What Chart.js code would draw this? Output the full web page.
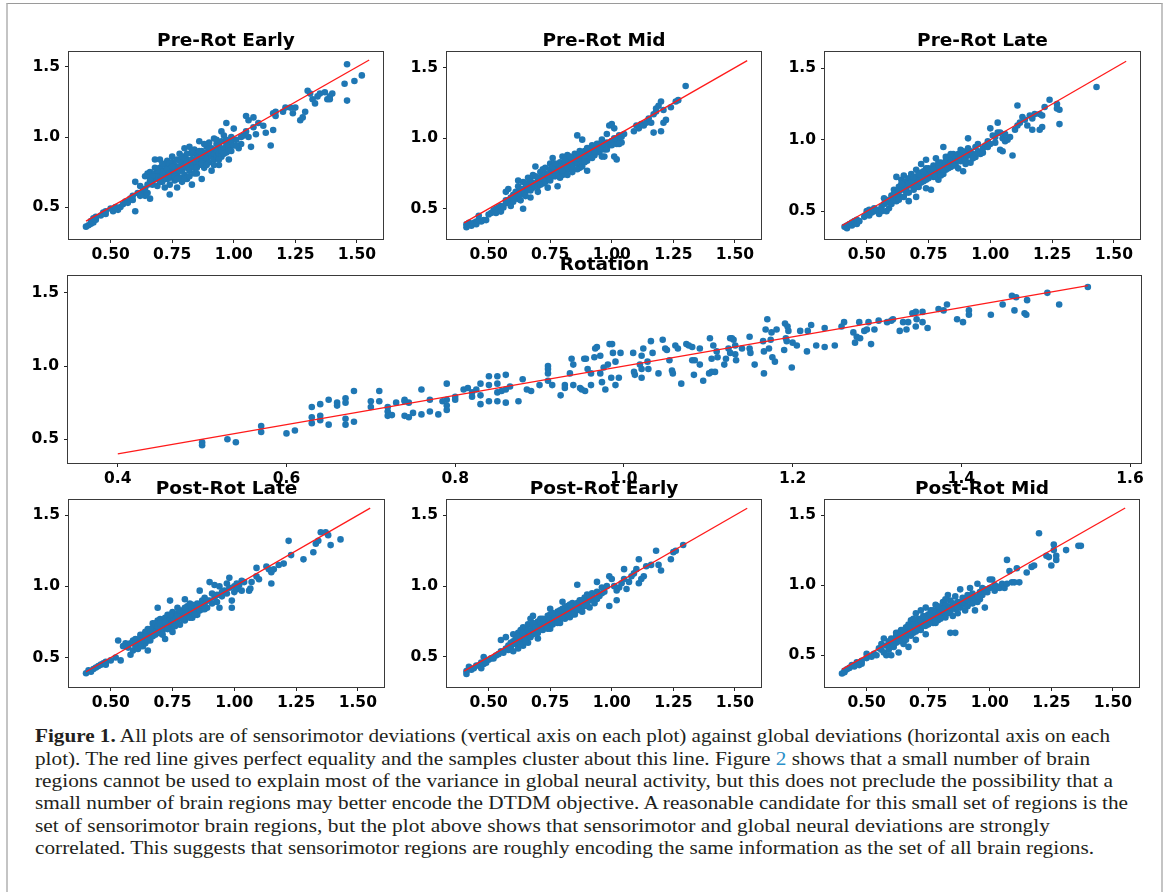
<!DOCTYPE html>
<html><head><meta charset="utf-8">
<script src="https://cdn.jsdelivr.net/npm/chart.js@4.4.0/dist/chart.umd.min.js"></script>
<style>
html,body{margin:0;padding:0;background:#fff;width:1167px;height:892px;overflow:hidden;position:relative;}
#frame{position:absolute;left:6px;top:3px;width:1153px;height:1000px;border-top:1px solid #9a9a9a;border-left:2px solid #c4c4c4;border-right:2px solid #c4c4c4;}
canvas{position:absolute;}
#caption{position:absolute;left:0;top:0;color:#231f20;}
.cl{position:absolute;white-space:nowrap;line-height:normal;transform-origin:0 0;}
.cl b{font-weight:bold;}
.cl .lk{color:#2a8fc8;}
</style></head><body>
<div id="frame"></div>
<div id="caption"></div>
<script>
// ---------- DATA ----------
const smallXTicks=[0.5,0.75,1.0,1.25,1.5];
const smallXLabels=['0.50','0.75','1.00','1.25','1.50'];
const rotXTicks=[0.4,0.6,0.8,1.0,1.2,1.4,1.6];
const rotXLabels=['0.4','0.6','0.8','1.0','1.2','1.4','1.6'];
const yTicks=[0.5,1.0,1.5];
const yLabels=['0.5','1.0','1.5'];
const equalityLine=[[0.4,0.4],[1.55,1.55]];

const preRotEarly=[[0.40,0.36],[0.41,0.37],[0.42,0.38],[0.42,0.40],[0.43,0.39],[0.43,0.42],[0.44,0.41],[0.44,0.43],[0.46,0.44],[0.47,0.46],[0.48,0.45],[0.48,0.47],[0.50,0.49],[0.51,0.47],[0.52,0.50],[0.53,0.48],[0.54,0.50],[0.55,0.52],[0.56,0.54],[0.57,0.53],[0.58,0.56],[0.59,0.55],[0.59,0.58],[0.60,0.47],[0.60,0.68],[0.61,0.60],[0.62,0.65],[0.63,0.61],[0.64,0.58],[0.65,0.60],[0.66,0.56],[0.64,0.63],
[0.64,0.72],[0.65,0.74],[0.66,0.75],[0.66,0.71],[0.67,0.68],[0.67,0.66],[0.68,0.74],[0.68,0.84],[0.69,0.70],[0.69,0.65],[0.70,0.78],[0.70,0.73],[0.70,0.84],[0.71,0.72],[0.71,0.68],[0.72,0.76],[0.72,0.80],[0.72,0.64],
[0.73,0.73],[0.73,0.83],[0.73,0.70],[0.74,0.78],[0.74,0.75],[0.74,0.66],[0.74,0.59],[0.75,0.82],[0.75,0.72],[0.75,0.86],[0.76,0.77],[0.76,0.69],[0.76,0.80],[0.77,0.84],[0.77,0.74],[0.77,0.64],[0.78,0.79],[0.78,0.88],[0.78,0.71],[0.79,0.82],[0.79,0.76],[0.79,0.68],[0.80,0.86],[0.80,0.80],[0.80,0.73],[0.80,0.92],
[0.81,0.78],[0.81,0.84],[0.81,0.70],[0.82,0.93],[0.82,0.82],[0.82,0.76],[0.83,0.80],[0.83,0.88],[0.83,0.66],[0.84,0.84],[0.84,0.78],[0.84,0.91],[0.85,0.82],[0.85,0.88],[0.85,0.74],[0.86,0.86],[0.86,0.80],[0.86,0.97],[0.87,0.84],[0.87,0.90],[0.87,0.70],[0.88,0.87],[0.88,0.82],[0.88,0.78],
[0.89,0.93],[0.89,0.85],[0.90,0.88],[0.90,0.82],[0.90,0.96],[0.91,0.86],[0.91,0.90],[0.91,0.76],[0.92,0.99],[0.92,0.84],[0.92,0.88],[0.93,0.91],[0.93,0.86],[0.94,0.88],[0.94,0.94],[0.94,0.80],[0.95,1.04],[0.95,0.90],[0.95,0.86],[0.96,0.92],[0.96,1.01],[0.97,0.89],[0.97,1.10],[0.97,0.95],[0.98,0.93],[0.98,0.84],[0.99,0.97],[0.99,0.90],[1.00,0.94],[1.00,1.06],
[1.01,0.98],[1.02,0.92],[1.03,0.95],[1.04,1.01],[1.05,1.04],[1.05,1.15],[1.06,1.12],[1.06,1.00],[1.07,0.93],[1.08,1.07],[1.08,1.14],[1.09,1.02],[1.10,1.10],[1.12,1.08],[1.13,1.03],[1.15,0.94],[1.16,1.05],[1.16,1.17],[1.17,1.15],[1.17,1.18],[1.20,1.18],
[1.21,1.21],[1.23,1.21],[1.25,1.21],[1.24,1.17],[1.27,1.12],[1.28,1.14],[1.29,1.18],[1.30,1.33],[1.31,1.31],[1.32,1.27],[1.33,1.24],[1.34,1.29],[1.35,1.31],[1.37,1.32],[1.38,1.27],[1.39,1.29],[1.40,1.31],[1.39,1.27],[1.45,1.38],[1.46,1.52],[1.46,1.26],[1.49,1.40],[1.52,1.44],
[0.68,0.72],[0.71,0.75],[0.74,0.71],[0.76,0.74],[0.78,0.76],[0.79,0.79],[0.81,0.81],[0.83,0.84],[0.85,0.85],[0.87,0.87],[0.89,0.89],[0.91,0.92],[0.93,0.95],[0.95,0.97],[0.76,0.72],[0.72,0.70],[0.69,0.76],[0.67,0.72],
[0.66,0.69],[0.68,0.78],[0.70,0.68],[0.71,0.81],[0.73,0.77],[0.74,0.81],[0.75,0.79],[0.77,0.70],[0.78,0.83],[0.79,0.86],[0.80,0.70],[0.81,0.88],[0.82,0.72],[0.83,0.90],[0.84,0.74],[0.85,0.78],[0.86,0.90],[0.87,0.81],[0.88,0.95],[0.89,0.80],[0.90,0.92],[0.92,0.80],[0.93,0.98],[0.94,0.84],[0.96,0.88],[0.97,0.98],[0.98,0.90],[0.99,1.00],[1.01,0.94],[1.03,1.00],[0.62,0.58],[0.65,0.66]];

const preRotMid=[[0.41,0.37],[0.41,0.39],[0.42,0.40],[0.43,0.38],[0.44,0.40],[0.45,0.41],[0.45,0.39],[0.46,0.42],[0.46,0.45],[0.47,0.41],[0.48,0.42],[0.49,0.42],[0.50,0.46],[0.51,0.47],[0.52,0.49],[0.53,0.50],[0.53,0.47],[0.54,0.51],[0.55,0.52],[0.55,0.48],[0.56,0.51],[0.57,0.54],[0.57,0.62],[0.58,0.56],[0.58,0.64],[0.59,0.58],[0.59,0.52],[0.60,0.60],[0.60,0.55],[0.61,0.62],[0.62,0.57],[0.62,0.66],[0.63,0.64],[0.63,0.60],[0.64,0.50],[0.64,0.69],[0.65,0.62],[0.66,0.72],[0.66,0.67],[0.67,0.58],[0.67,0.70],[0.68,0.74],[0.68,0.65],[0.69,0.68],[0.69,0.80],[0.70,0.72],[0.70,0.62],[0.71,0.70],[0.71,0.76],[0.72,0.73],[0.72,0.68],[0.73,0.75],[0.73,0.79],[0.74,0.71],[0.74,0.65],[0.75,0.78],[0.75,0.82],[0.75,0.74],[0.76,0.76],[0.76,0.86],[0.77,0.79],[0.77,0.73],[0.78,0.81],[0.78,0.75],[0.78,0.66],[0.79,0.83],[0.79,0.78],[0.80,0.80],[0.80,0.87],[0.80,0.74],[0.81,0.82],[0.81,0.77],[0.82,0.85],[0.82,0.80],[0.82,0.88],[0.83,0.78],[0.83,0.83],[0.84,0.86],[0.84,0.81],[0.84,0.76],[0.85,0.84],[0.85,0.89],[0.86,1.02],[0.86,0.82],[0.86,0.87],[0.87,0.85],[0.87,0.79],[0.88,0.88],[0.88,0.83],[0.88,0.99],[0.89,0.86],[0.89,0.91],[0.90,0.89],[0.90,0.84],[0.90,0.77],[0.91,0.92],[0.91,0.87],[0.92,0.90],[0.93,0.88],[0.93,0.94],[0.94,0.91],[0.95,0.96],[0.95,0.90],[0.96,0.93],[0.96,0.99],[0.97,0.92],[0.97,0.87],[0.98,0.97],[0.98,1.03],[0.99,0.95],[0.99,1.09],[1.00,1.10],[1.00,0.98],[1.01,0.87],[1.01,1.07],[1.02,0.85],[1.02,0.96],[1.03,1.02],[1.03,0.99],[1.04,1.01],[1.04,0.97],[1.05,1.03],[1.09,1.05],[1.10,1.09],[1.11,1.07],[1.12,1.10],[1.13,1.09],[1.14,1.11],[1.15,1.14],[1.16,1.11],[1.17,1.04],[1.17,1.17],[1.18,1.19],[1.18,1.21],[1.19,1.23],[1.20,1.05],[1.20,1.26],[1.21,1.20],[1.22,1.13],[1.21,1.11],[1.24,1.22],[1.26,1.26],[1.27,1.27],[1.30,1.37],
[0.57,0.56],[0.60,0.58],[0.62,0.61],[0.64,0.64],[0.66,0.65],[0.68,0.68],[0.70,0.69],[0.72,0.71],[0.74,0.74],[0.76,0.73],[0.77,0.77],[0.79,0.80],[0.81,0.79],[0.83,0.81],[0.85,0.86],[0.87,0.88],[0.89,0.88],[0.91,0.89],[0.92,0.95],[0.94,0.96],[0.62,0.70],[0.65,0.59],[0.63,0.56],
[0.65,0.68],[0.67,0.63],[0.69,0.73],[0.70,0.66],[0.71,0.67],[0.72,0.78],[0.73,0.69],[0.75,0.70],[0.76,0.80],[0.77,0.82],[0.79,0.72],[0.80,0.77],[0.81,0.85],[0.82,0.74],[0.83,0.87],[0.84,0.79],[0.86,0.78],[0.87,0.91],[0.88,0.80],[0.89,0.83],[0.90,0.93],[0.92,0.86],[0.93,0.91],[0.95,0.93],[0.96,0.87],[0.97,0.96],[0.98,0.92],[1.00,0.95],[1.01,1.00],[1.03,0.96]];

const preRotLate=[[0.41,0.39],[0.42,0.40],[0.42,0.38],[0.43,0.41],[0.44,0.40],[0.44,0.42],[0.45,0.43],[0.46,0.41],[0.46,0.44],[0.47,0.43],[0.49,0.46],[0.50,0.48],[0.50,0.50],[0.51,0.47],[0.51,0.51],[0.52,0.49],[0.53,0.52],[0.53,0.50],[0.54,0.51],[0.55,0.48],[0.56,0.53],[0.56,0.50],[0.57,0.55],[0.57,0.59],[0.58,0.56],[0.58,0.50],[0.59,0.52],[0.59,0.58],[0.60,0.61],[0.60,0.55],[0.61,0.65],[0.61,0.59],[0.62,0.63],[0.62,0.74],[0.62,0.57],[0.63,0.67],[0.63,0.61],[0.64,0.72],[0.64,0.65],[0.65,0.69],[0.65,0.60],[0.65,0.75],[0.66,0.66],[0.66,0.71],[0.67,0.73],[0.67,0.63],[0.67,0.57],[0.68,0.68],[0.68,0.76],[0.69,0.70],[0.69,0.65],[0.70,0.74],[0.70,0.79],[0.70,0.60],[0.71,0.72],[0.71,0.67],[0.72,0.77],[0.72,0.83],[0.72,0.70],[0.73,0.75],[0.73,0.71],[0.74,0.80],[0.74,0.66],[0.74,0.86],[0.75,0.77],[0.75,0.73],[0.76,0.79],[0.76,0.76],[0.76,0.65],[0.77,0.82],[0.77,0.74],[0.78,0.80],[0.78,0.77],[0.78,0.87],[0.79,0.78],[0.79,0.72],[0.80,0.84],[0.80,0.80],[0.81,0.82],[0.81,0.76],[0.81,0.95],[0.82,0.85],[0.82,0.79],[0.83,0.83],[0.83,0.88],[0.84,0.86],[0.84,0.81],[0.85,0.84],[0.85,0.90],[0.86,0.87],[0.86,0.82],[0.87,0.90],[0.87,0.80],[0.88,0.85],[0.88,0.93],[0.89,0.88],[0.89,0.78],[0.90,0.91],[0.90,0.86],[0.91,1.01],[0.91,0.89],[0.92,0.92],[0.92,0.84],[0.93,0.90],[0.94,0.95],[0.94,0.88],[0.95,0.92],[0.96,0.90],[0.97,0.94],[0.98,0.96],[0.99,0.99],[0.99,0.95],[1.00,1.08],[1.01,1.03],[1.02,1.02],[1.02,0.98],[1.03,1.12],[1.03,1.05],[1.04,0.93],[1.05,1.01],[1.05,0.92],[1.06,0.99],[1.07,1.00],[1.08,1.02],[1.09,0.89],[1.10,1.07],[1.11,1.24],[1.11,1.10],[1.12,1.12],[1.13,1.16],[1.14,1.14],[1.15,1.10],[1.16,1.17],[1.17,1.07],[1.17,1.15],[1.18,1.18],[1.20,1.07],[1.20,1.18],[1.21,1.09],[1.21,1.17],[1.22,1.23],[1.24,1.28],[1.27,1.25],[1.27,1.22],[1.28,1.21],[1.28,1.11],[1.43,1.37],
[0.63,0.64],[0.66,0.68],[0.69,0.69],[0.71,0.70],[0.73,0.73],[0.75,0.75],[0.77,0.77],[0.79,0.81],[0.80,0.78],[0.82,0.82],[0.84,0.84],[0.86,0.85],[0.88,0.88],[0.67,0.69],[0.72,0.74],[0.76,0.78],
[0.61,0.62],[0.63,0.58],[0.64,0.69],[0.66,0.63],[0.68,0.71],[0.69,0.74],[0.70,0.67],[0.71,0.76],[0.73,0.78],[0.74,0.72],[0.75,0.80],[0.77,0.79],[0.78,0.74],[0.79,0.84],[0.80,0.75],[0.81,0.79],[0.82,0.88],[0.83,0.80],[0.84,0.90],[0.85,0.82],[0.87,0.86],[0.89,0.92],[0.90,0.83],[0.91,0.94],[0.93,0.87],[0.95,0.97],[0.97,0.91],[1.00,0.97],[1.04,1.05],[1.06,1.04]];

const rotation=[[0.50,0.46],[0.50,0.48],[0.53,0.50],[0.54,0.48],[0.57,0.55],[0.57,0.59],[0.60,0.54],[0.61,0.56],[0.63,0.61],[0.63,0.72],[0.64,0.66],[0.64,0.74],[0.64,0.63],[0.63,0.65],[0.65,0.60],[0.65,0.77],[0.66,0.75],[0.66,0.73],[0.67,0.78],[0.67,0.75],[0.67,0.64],[0.68,0.62],[0.67,0.60],[0.68,0.83],[0.70,0.76],[0.70,0.72],[0.71,0.83],[0.71,0.76],[0.72,0.69],[0.72,0.66],[0.725,0.665],[0.72,0.72],[0.73,0.75],[0.74,0.76],[0.74,0.77],[0.745,0.75],[0.74,0.66],[0.745,0.65],[0.75,0.68],[0.76,0.84],[0.76,0.67],[0.77,0.69],[0.77,0.77],[0.78,0.67],[0.79,0.88],[0.79,0.73],[0.79,0.77],[0.785,0.76],[0.79,0.70],[0.80,0.77],[0.80,0.79],[0.81,0.84],[0.815,0.85],[0.82,0.82],[0.825,0.84],[0.82,0.79],[0.83,0.88],[0.83,0.80],[0.83,0.74],[0.84,0.76],[0.84,0.87],[0.84,0.93],[0.85,0.82],[0.85,0.93],[0.85,0.88],[0.855,0.83],[0.85,0.76],[0.86,0.75],[0.86,0.94],[0.86,0.84],[0.865,0.86],[0.875,0.76],[0.88,0.91],[0.885,0.84],[0.89,0.83],[0.90,0.87],[0.91,0.90],[0.91,1.00],[0.91,0.98],[0.91,0.95],[0.915,0.87],[0.925,0.80],[0.93,0.87],[0.93,0.85],[0.936,0.95],[0.938,1.05],[0.94,1.01],[0.94,0.87],[0.948,0.85],[0.953,1.05],[0.95,0.84],[0.954,0.83],[0.955,1.05],[0.957,0.98],[0.961,0.95],[0.961,0.87],[0.965,1.06],[0.966,1.12],[0.968,1.13],[0.972,1.07],[0.972,0.95],[0.974,0.89],[0.978,0.84],[0.976,0.99],[0.981,1.01],[0.983,1.15],[0.986,1.15],[0.987,1.09],[0.985,0.92],[0.99,0.87],[0.99,1.03],[0.994,0.92],[0.996,1.09],[1.011,1.09],[1.012,0.96],[1.013,0.94],[1.019,1.01],[1.021,0.98],[1.023,1.12],[1.021,1.07],[1.021,0.92],[1.028,1.03],[1.029,0.98],[1.032,1.17],[1.034,1.09],[1.041,0.95],[1.046,1.18],[1.049,1.12],[1.051,1.11],[1.054,1.04],[1.057,0.97],[1.058,0.95],[1.061,1.14],[1.064,1.12],[1.068,0.88],[1.074,1.15],[1.077,1.14],[1.081,1.13],[1.081,1.04],[1.084,1.04],[1.083,0.94],[1.09,1.12],[1.09,1.01],[1.094,0.90],[1.101,0.95],[1.104,0.96],[1.102,1.19],[1.106,1.14],[1.104,1.05],[1.108,0.96],[1.11,1.10],[1.111,1.06],[1.119,1.01],[1.121,1.05],[1.124,1.12],[1.126,1.19],[1.128,1.19],[1.13,1.18],[1.132,1.14],[1.126,1.09],[1.132,1.08],[1.133,1.04],[1.14,1.12],[1.149,1.20],[1.149,1.12],[1.15,1.09],[1.155,1.01],[1.165,1.17],[1.166,1.10],[1.166,0.95],[1.168,1.25],[1.17,1.32],[1.172,1.12],[1.175,1.23],[1.174,1.18],[1.176,1.06],[1.179,1.03],[1.181,1.25],[1.19,1.11],[1.191,1.29],[1.192,1.19],[1.194,1.27],[1.195,1.24],[1.193,1.17],[1.199,0.99],[1.20,1.16],[1.205,1.14],[1.209,1.24],[1.217,1.10],[1.218,1.24],[1.222,1.28],[1.228,1.14],[1.238,1.26],[1.238,1.13],[1.25,1.14],[1.258,1.27],[1.261,1.30],[1.272,1.23],[1.274,1.16],[1.276,1.20],[1.28,1.19],[1.279,1.30],[1.285,1.24],[1.288,1.25],[1.29,1.30],[1.293,1.15],[1.297,1.25],[1.302,1.31],[1.312,1.30],[1.317,1.31],[1.319,1.32],[1.327,1.24],[1.331,1.30],[1.335,1.25],[1.337,1.30],[1.342,1.36],[1.346,1.37],[1.347,1.32],[1.346,1.27],[1.354,1.37],[1.354,1.30],[1.36,1.26],[1.373,1.39],[1.379,1.38],[1.383,1.42],[1.395,1.32],[1.402,1.30],[1.409,1.38],[1.409,1.35],[1.435,1.35],[1.449,1.42],[1.46,1.48],[1.463,1.38],[1.465,1.47],[1.475,1.36],[1.477,1.35],[1.478,1.45],[1.502,1.50],[1.516,1.42],[1.55,1.54]];

const postRotLate=[[0.40,0.39],[0.41,0.41],[0.42,0.40],[0.43,0.42],[0.44,0.43],[0.45,0.44],[0.46,0.45],[0.47,0.46],[0.48,0.47],[0.48,0.45],[0.50,0.48],[0.52,0.50],[0.53,0.62],[0.54,0.48],[0.55,0.58],[0.56,0.60],[0.57,0.57],[0.58,0.52],[0.58,0.60],[0.59,0.55],[0.59,0.62],[0.60,0.58],[0.60,0.63],[0.61,0.60],[0.61,0.56],[0.62,0.64],[0.62,0.61],[0.63,0.58],[0.63,0.66],[0.64,0.63],[0.64,0.68],[0.64,0.60],[0.65,0.65],[0.65,0.70],[0.65,0.55],[0.66,0.67],[0.66,0.62],[0.67,0.69],[0.67,0.74],[0.67,0.65],[0.68,0.71],[0.68,0.66],[0.69,0.76],[0.69,0.69],[0.69,0.85],[0.70,0.72],[0.70,0.67],[0.70,0.77],[0.71,0.74],[0.71,0.69],[0.72,0.78],[0.72,0.63],[0.72,0.72],[0.73,0.75],[0.73,0.80],[0.74,0.73],[0.74,0.90],[0.74,0.70],[0.75,0.77],[0.75,0.82],[0.75,0.68],[0.76,0.79],[0.76,0.75],[0.77,0.81],[0.77,0.76],[0.77,0.85],[0.78,0.78],[0.78,0.73],[0.79,0.83],[0.79,0.80],[0.80,0.91],[0.80,0.82],[0.80,0.76],[0.81,0.86],[0.81,0.79],[0.82,0.84],[0.82,0.88],[0.83,0.82],[0.83,0.78],[0.84,0.85],[0.85,0.88],[0.85,0.80],[0.86,0.97],[0.86,0.86],[0.87,0.84],[0.87,0.90],[0.88,0.87],[0.88,0.92],[0.89,0.85],[0.90,1.03],[0.90,0.90],[0.91,0.88],[0.91,0.95],[0.92,1.01],[0.92,0.92],[0.93,0.89],[0.94,1.00],[0.94,0.85],[0.95,0.93],[0.96,0.97],[0.97,1.02],[0.98,1.06],[0.98,0.99],[0.99,0.90],[0.99,0.85],[1.00,0.96],[1.00,1.00],[1.01,0.98],[1.02,1.01],[1.03,0.97],[1.04,1.03],[1.06,0.97],[1.065,0.985],[1.07,1.03],[1.09,1.13],[1.09,1.07],[1.10,1.05],[1.13,1.14],[1.14,1.12],[1.15,1.02],[1.15,1.10],[1.16,1.12],[1.18,1.15],[1.20,1.16],[1.22,1.32],[1.23,1.22],[1.28,1.19],[1.32,1.24],[1.33,1.30],[1.34,1.32],[1.35,1.38],[1.37,1.38],[1.38,1.36],[1.39,1.29],[1.43,1.33],
[0.62,0.58],[0.66,0.65],[0.68,0.68],[0.71,0.71],[0.73,0.72],[0.75,0.74],[0.76,0.77],[0.78,0.80],[0.80,0.79],[0.82,0.81],[0.84,0.83],[0.86,0.83],[0.63,0.62],[0.70,0.70],[0.74,0.77],
[0.60,0.60],[0.62,0.66],[0.64,0.65],[0.65,0.62],[0.66,0.70],[0.67,0.67],[0.68,0.74],[0.69,0.72],[0.70,0.74],[0.71,0.66],[0.72,0.75],[0.73,0.70],[0.74,0.80],[0.75,0.75],[0.76,0.72],[0.77,0.79],[0.78,0.83],[0.79,0.77],[0.80,0.85],[0.81,0.82],[0.82,0.78],[0.83,0.87],[0.84,0.80],[0.85,0.86],[0.87,0.87],[0.88,0.84],[0.89,0.90],[0.93,0.94],[0.95,0.96],[0.97,0.95],[1.01,1.02],[1.03,1.04]];

const postRotEarly=[[0.41,0.38],[0.41,0.40],[0.42,0.43],[0.43,0.41],[0.44,0.42],[0.45,0.44],[0.46,0.44],[0.47,0.42],[0.47,0.46],[0.48,0.50],[0.48,0.45],[0.49,0.46],[0.50,0.48],[0.51,0.49],[0.52,0.49],[0.53,0.51],[0.54,0.52],[0.55,0.54],[0.55,0.62],[0.56,0.53],[0.57,0.64],[0.57,0.56],[0.58,0.58],[0.58,0.55],[0.59,0.60],[0.59,0.57],[0.60,0.61],[0.60,0.54],[0.60,0.66],[0.61,0.59],[0.61,0.63],[0.62,0.60],[0.62,0.67],[0.62,0.56],[0.63,0.64],[0.63,0.69],[0.64,0.62],[0.64,0.71],[0.64,0.58],[0.65,0.66],[0.65,0.70],[0.66,0.64],[0.66,0.73],[0.66,0.60],[0.67,0.68],[0.67,0.77],[0.68,0.71],[0.68,0.66],[0.68,0.79],[0.69,0.73],[0.69,0.68],[0.70,0.75],[0.70,0.71],[0.70,0.63],[0.71,0.72],[0.71,0.77],[0.72,0.74],[0.72,0.69],[0.73,0.76],[0.73,0.71],[0.74,0.73],[0.74,0.79],[0.75,0.84],[0.75,0.76],[0.75,0.70],[0.76,0.78],[0.76,0.73],[0.77,0.80],[0.77,0.75],[0.78,0.77],[0.78,0.82],[0.79,0.79],[0.79,0.74],[0.80,0.84],[0.80,0.80],[0.80,0.89],[0.81,0.82],[0.81,0.77],[0.82,0.86],[0.82,0.80],[0.83,0.84],[0.83,0.78],[0.84,0.88],[0.84,0.82],[0.85,0.86],[0.85,0.80],[0.86,1.01],[0.86,0.88],[0.86,0.83],[0.87,0.90],[0.87,0.85],[0.88,0.87],[0.88,0.82],[0.89,0.92],[0.89,0.86],[0.90,0.94],[0.90,0.88],[0.91,0.90],[0.91,0.85],[0.92,0.92],[0.93,0.88],[0.94,1.03],[0.94,0.96],[0.95,0.93],[0.96,0.99],[0.97,0.96],[0.98,1.00],[0.99,0.86],[0.99,1.07],[1.00,1.05],[1.01,1.00],[1.02,0.97],[1.02,0.90],[1.03,0.99],[1.04,1.02],[1.05,1.12],[1.05,1.05],[1.06,0.98],[1.07,1.03],[1.08,1.07],[1.09,1.09],[1.10,1.12],[1.11,1.19],[1.11,1.02],[1.12,1.05],[1.13,1.07],[1.14,1.14],[1.16,1.15],[1.18,1.25],[1.19,1.15],[1.20,1.11],[1.24,1.19],[1.25,1.24],[1.26,1.25],[1.29,1.29],
[0.63,0.62],[0.65,0.63],[0.67,0.66],[0.69,0.70],[0.71,0.70],[0.72,0.72],[0.74,0.76],[0.76,0.75],[0.78,0.79],[0.79,0.77],[0.81,0.80],[0.83,0.81],[0.85,0.83],[0.87,0.88],[0.89,0.89],[0.91,0.93],[0.93,0.92],
[0.61,0.61],[0.62,0.64],[0.63,0.59],[0.64,0.67],[0.65,0.61],[0.66,0.69],[0.67,0.64],[0.68,0.74],[0.69,0.71],[0.70,0.67],[0.71,0.75],[0.72,0.77],[0.73,0.73],[0.74,0.70],[0.75,0.80],[0.76,0.81],[0.77,0.77],[0.78,0.74],[0.79,0.83],[0.80,0.78],[0.81,0.85],[0.82,0.83],[0.83,0.87],[0.84,0.80],[0.86,0.85],[0.88,0.90],[0.90,0.86],[0.92,0.95],[0.94,0.91],[0.96,0.95]];

const postRotMid=[[0.40,0.37],[0.41,0.38],[0.41,0.39],[0.42,0.40],[0.43,0.41],[0.44,0.43],[0.45,0.42],[0.46,0.45],[0.47,0.43],[0.48,0.46],[0.48,0.44],[0.50,0.51],[0.50,0.48],[0.52,0.49],[0.53,0.51],[0.54,0.50],[0.55,0.55],[0.56,0.58],[0.56,0.54],[0.57,0.52],[0.57,0.62],[0.58,0.57],[0.58,0.50],[0.59,0.60],[0.59,0.54],[0.60,0.58],[0.60,0.62],[0.60,0.50],[0.61,0.61],[0.61,0.56],[0.62,0.64],[0.62,0.59],[0.63,0.62],[0.63,0.66],[0.63,0.52],[0.64,0.60],[0.64,0.68],[0.65,0.65],[0.65,0.58],[0.66,0.70],[0.66,0.63],[0.67,0.56],[0.67,0.67],[0.67,0.72],[0.68,0.64],[0.68,0.75],[0.69,0.69],[0.69,0.66],[0.70,0.73],[0.70,0.80],[0.70,0.61],[0.71,0.70],[0.71,0.76],[0.72,0.68],[0.72,0.82],[0.73,0.74],[0.73,0.71],[0.74,0.77],[0.74,0.65],[0.74,0.84],[0.75,0.72],[0.75,0.79],[0.76,0.75],[0.76,0.82],[0.77,0.78],[0.77,0.73],[0.78,0.80],[0.78,0.76],[0.78,0.86],[0.79,0.82],[0.79,0.75],[0.80,0.84],[0.80,0.78],[0.81,0.80],[0.81,0.88],[0.82,0.83],[0.82,0.77],[0.83,0.93],[0.83,0.85],[0.84,0.66],[0.84,0.81],[0.84,0.89],[0.85,0.84],[0.85,0.78],[0.86,0.66],[0.86,0.86],[0.86,0.92],[0.87,0.80],[0.87,0.88],[0.88,0.84],[0.88,0.97],[0.89,0.86],[0.89,0.91],[0.90,0.82],[0.90,0.88],[0.91,0.93],[0.91,0.85],[0.92,0.89],[0.92,0.98],[0.93,0.87],[0.93,0.94],[0.94,0.91],[0.94,0.82],[0.95,1.01],[0.95,0.88],[0.96,0.95],[0.96,0.90],[0.97,0.93],[0.98,0.84],[0.98,0.97],[0.99,0.95],[1.00,1.04],[1.00,0.98],[1.01,1.04],[1.02,0.96],[1.03,0.99],[1.04,0.98],[1.05,1.01],[1.06,0.98],[1.07,1.18],[1.07,1.01],[1.08,1.10],[1.09,1.02],[1.10,1.02],[1.11,1.12],[1.12,1.02],[1.15,1.09],[1.17,1.13],[1.18,1.14],[1.20,1.37],[1.23,1.21],[1.24,1.20],[1.25,1.14],[1.26,1.29],[1.26,1.25],[1.27,1.18],[1.27,1.21],[1.31,1.25],[1.36,1.28],[1.37,1.28],
[0.62,0.61],[0.64,0.63],[0.66,0.66],[0.68,0.69],[0.70,0.70],[0.72,0.73],[0.74,0.74],[0.76,0.78],[0.78,0.79],[0.80,0.81],[0.82,0.86],[0.84,0.84],[0.86,0.83],[0.88,0.88],[0.90,0.90],[0.65,0.61],[0.69,0.72],
[0.59,0.57],[0.61,0.58],[0.62,0.66],[0.63,0.60],[0.64,0.66],[0.65,0.68],[0.66,0.61],[0.67,0.70],[0.68,0.67],[0.69,0.76],[0.70,0.67],[0.71,0.73],[0.72,0.75],[0.73,0.78],[0.74,0.71],[0.75,0.76],[0.76,0.79],[0.77,0.82],[0.78,0.73],[0.79,0.85],[0.80,0.76],[0.81,0.83],[0.82,0.90],[0.83,0.80],[0.85,0.87],[0.87,0.84],[0.89,0.88],[0.91,0.89],[0.93,0.91],[0.95,0.92],[0.97,0.98],[1.02,1.00]];

const captionLines=[
 [['b','Figure 1.'],['t',' All plots are of sensorimotor deviations (vertical axis on each plot) against global deviations (horizontal axis on each']],
 [['t','plot). The red line gives perfect equality and the samples cluster about this line. Figure '],['l','2'],['t',' shows that a small number of brain']],
 [['t','regions cannot be used to explain most of the variance in global neural activity, but this does not preclude the possibility that a']],
 [['t','small number of brain regions may better encode the DTDM objective. A reasonable candidate for this small set of regions is the']],
 [['t','set of sensorimotor brain regions, but the plot above shows that sensorimotor and global neural deviations are strongly']],
 [['t','correlated. This suggests that sensorimotor regions are roughly encoding the same information as the set of all brain regions.']]
];

// ---------- LAYOUT ----------
const panels=[
 {title:'Pre-Rot Early',pts:preRotEarly,box:[69,52,314,187],xr:[0.331,1.606],yr:[0.272,1.607],xt:smallXTicks,xl:smallXLabels},
 {title:'Pre-Rot Mid',pts:preRotMid,box:[447,52,314,187],xr:[0.331,1.606],yr:[0.286,1.611],xt:smallXTicks,xl:smallXLabels},
 {title:'Pre-Rot Late',pts:preRotLate,box:[825,52,315,187],xr:[0.331,1.606],yr:[0.305,1.615],xt:smallXTicks,xl:smallXLabels},
 {title:'Rotation',pts:rotation,box:[68,276,1073,187],xr:[0.341,1.613],yr:[0.338,1.615],xt:rotXTicks,xl:rotXLabels},
 {title:'Post-Rot Late',pts:postRotLate,box:[69,500,315,187],xr:[0.331,1.606],yr:[0.293,1.607],xt:smallXTicks,xl:smallXLabels},
 {title:'Post-Rot Early',pts:postRotEarly,box:[447,500,314,187],xr:[0.331,1.606],yr:[0.288,1.608],xt:smallXTicks,xl:smallXLabels},
 {title:'Post-Rot Mid',pts:postRotMid,box:[825,500,314,187],xr:[0.331,1.606],yr:[0.274,1.607],xt:smallXTicks,xl:smallXLabels}
];
const captionLeft=35, captionBase0=742.7, captionStep=22.3;
const captionRight=[1110,1090,1113,1128,1050,1094];

const WY=62, HT=22, HX=34, PR=30;
const tickFont={family:'DejaVu Sans',size:15.5,weight:'bold'};

const frameBox={id:'frameBox',afterDatasetsDraw(chart){
  const a=chart.chartArea,ctx=chart.ctx;ctx.save();ctx.strokeStyle='#3a3a3a';ctx.lineWidth=1;
  ctx.strokeRect(Math.round(a.left)-0.5,Math.round(a.top)-0.5,Math.round(a.right-a.left)+1,Math.round(a.bottom-a.top)+1);
  ctx.restore();}};

function makePanel(p){
  const [bl,bt,bw,bh]=p.box;
  const c=document.createElement('canvas');
  const W=bw+WY+PR,H=bh+HT+HX;
  c.width=W;c.height=H;c.style.left=(bl-WY)+'px';c.style.top=(bt-HT)+'px';c.style.width=W+'px';c.style.height=H+'px';
  document.body.appendChild(c);
  new Chart(c,{
    type:'scatter',
    data:{datasets:[
      {type:'line',data:equalityLine.map(([x,y])=>({x,y})),borderColor:'#ff1a1a',borderWidth:1.3,pointRadius:0,fill:false,tension:0},
      {type:'scatter',data:p.pts.map(([x,y])=>({x,y})),backgroundColor:'#1f77b4',borderWidth:0,pointRadius:3.3,pointHoverRadius:3.3}
    ]},
    options:{
      responsive:false,animation:false,devicePixelRatio:1,events:[],
      layout:{padding:{left:0,right:PR,top:0,bottom:0}},
      plugins:{legend:{display:false},tooltip:{enabled:false},
        title:{display:true,text:p.title,fullSize:false,color:'#000',
          font:{family:'DejaVu Sans',size:18.5,weight:'bold',lineHeight:'22px'},padding:{top:0,bottom:0}}},
      scales:{
        x:{type:'linear',position:'bottom',min:p.xr[0],max:p.xr[1],
          afterFit(s){s.height=HX;},
          afterBuildTicks(s){s.ticks=p.xt.map(v=>({value:v}));},
          ticks:{callback:(v)=>p.xl[p.xt.findIndex(t=>Math.abs(t-v)<1e-9)],font:tickFont,color:'#000',padding:3,maxRotation:0,autoSkip:false},
          grid:{drawOnChartArea:false,drawTicks:true,tickLength:4,tickColor:'#222',lineWidth:1},
          border:{display:false}},
        y:{type:'linear',position:'left',min:p.yr[0],max:p.yr[1],
          afterFit(s){s.width=WY;},
          afterBuildTicks(s){s.ticks=yTicks.map(v=>({value:v}));},
          ticks:{callback:(v)=>yLabels[yTicks.findIndex(t=>Math.abs(t-v)<1e-9)],font:tickFont,color:'#000',padding:5,autoSkip:false},
          grid:{drawOnChartArea:false,drawTicks:true,tickLength:4,tickColor:'#222',lineWidth:1},
          border:{display:false}}
      }
    },
    plugins:[frameBox]
  });
}
panels.forEach(makePanel);

// caption font: prefer a Times-like serif, else a condensed / regular DejaVu Serif
function hasFont(name){
  const ctx=document.createElement('canvas').getContext('2d');
  const t='abcdefghijklmnopqrstuvwxyz ABCDEFGHIJKLM 0123456789 mmmwwwiiil';
  let diff=false;
  ['monospace','sans-serif','cursive'].forEach(g=>{
    ctx.font='40px '+g;const a=ctx.measureText(t).width;
    ctx.font='40px "'+name+'", '+g;const b=ctx.measureText(t).width;
    if(Math.abs(a-b)>0.5)diff=true;});
  return diff;
}
const fontChoices=[
  {name:'Liberation Serif',size:19.5,asc:0.891},
  {name:'Tinos',size:19.5,asc:0.891},
  {name:'Times New Roman',size:19.5,asc:0.891},
  {name:'DejaVu Serif Condensed',size:17.8,asc:0.928},
  {name:'DejaVu Serif',size:17.8,asc:0.928}
];
const fc=fontChoices.find(f=>hasFont(f.name))||{name:'serif',size:17.8,asc:0.928};

const cap=document.getElementById('caption');
cap.style.fontFamily='"'+fc.name+'", serif';
captionLines.forEach((segs,i)=>{
  const d=document.createElement('div');d.className='cl';
  d.style.fontSize=fc.size+'px';
  d.style.left=captionLeft+'px';
  d.style.top=(captionBase0+captionStep*i-fc.asc*fc.size)+'px';
  segs.forEach(([k,t])=>{
    const s=document.createElement(k==='b'?'b':'span');
    if(k==='l')s.className='lk';
    s.textContent=t;d.appendChild(s);
  });
  cap.appendChild(d);
  const w=d.getBoundingClientRect().width;
  const target=captionRight[i]-captionLeft;
  d.style.transform='scaleX('+(target/w)+')';
});
</script>
</body></html>
